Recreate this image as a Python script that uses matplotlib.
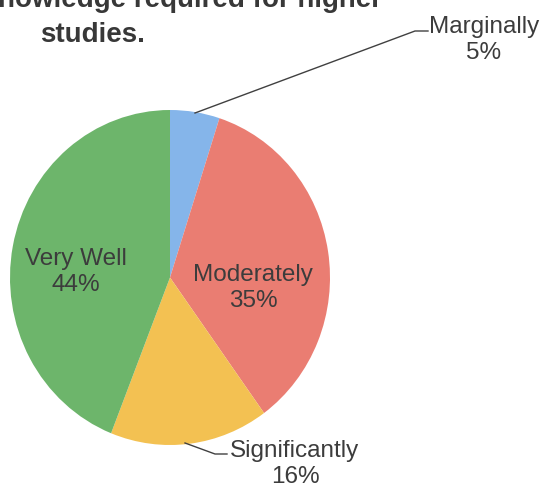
import matplotlib.pyplot as plt
from matplotlib.lines import Line2D

# data
labels = ["Marginally", "Moderately", "Significantly", "Very Well"]
values = [5, 35, 16, 44]
colors = ["#85b5ea", "#ea7d72", "#f3c152", "#6db56b"]

W, H = 549, 490
fig = plt.figure(figsize=(W / 100, H / 100), dpi=100)
plt.rcParams["font.family"] = ["Liberation Sans", "DejaVu Sans"]


def px(x, y):
    # pixel coords (top-left origin) -> figure fraction
    return x / W, 1 - y / H


# pie area is slightly stretched vertically in the scan
ax = fig.add_axes([10 / W, 45 / H, 320 / W, 335 / H])
ax.pie(values, colors=colors, startangle=90, counterclock=False,
       wedgeprops=dict(linewidth=0))
ax.set_aspect("auto")
ax.set_xlim(-1, 1)
ax.set_ylim(-1, 1)

txt = "#3c3c3c"
fs = 17.5

# inside labels
fig.text(*px(76, 272), f"{labels[3]}\n{values[3]}%", ha="center", va="center",
         fontsize=fs, color=txt)
fig.text(*px(253, 288), f"{labels[1]}\n{values[1]}%", ha="center", va="center",
         fontsize=fs, color=txt)

# outside labels with leader lines
fig.text(*px(484, 40), f"{labels[0]}\n{values[0]}%", ha="center", va="center",
         fontsize=fs, color=txt)
fig.add_artist(Line2D([195 / W, 415 / W, 428 / W],
                      [1 - 113 / H, 1 - 31 / H, 1 - 31 / H],
                      color="#404040", lw=1.0))

fig.text(*px(295, 464), f"{labels[2]}\n{values[2]}%", ha="center", va="center",
         fontsize=fs, color=txt)
fig.add_artist(Line2D([185 / W, 215 / W, 227 / W],
                      [1 - 443 / H, 1 - 454 / H, 1 - 454 / H],
                      color="#404040", lw=1.0))

# title (top line is cut off in the reference)
fig.text(*px(180, 7), "Knowledge required for higher", ha="center",
         va="baseline", fontsize=20, fontweight="bold", color="#383838")
fig.text(*px(93, 42), "studies.", ha="center", va="baseline",
         fontsize=20, fontweight="bold", color="#383838")

fig.savefig("out.png", dpi=100)
